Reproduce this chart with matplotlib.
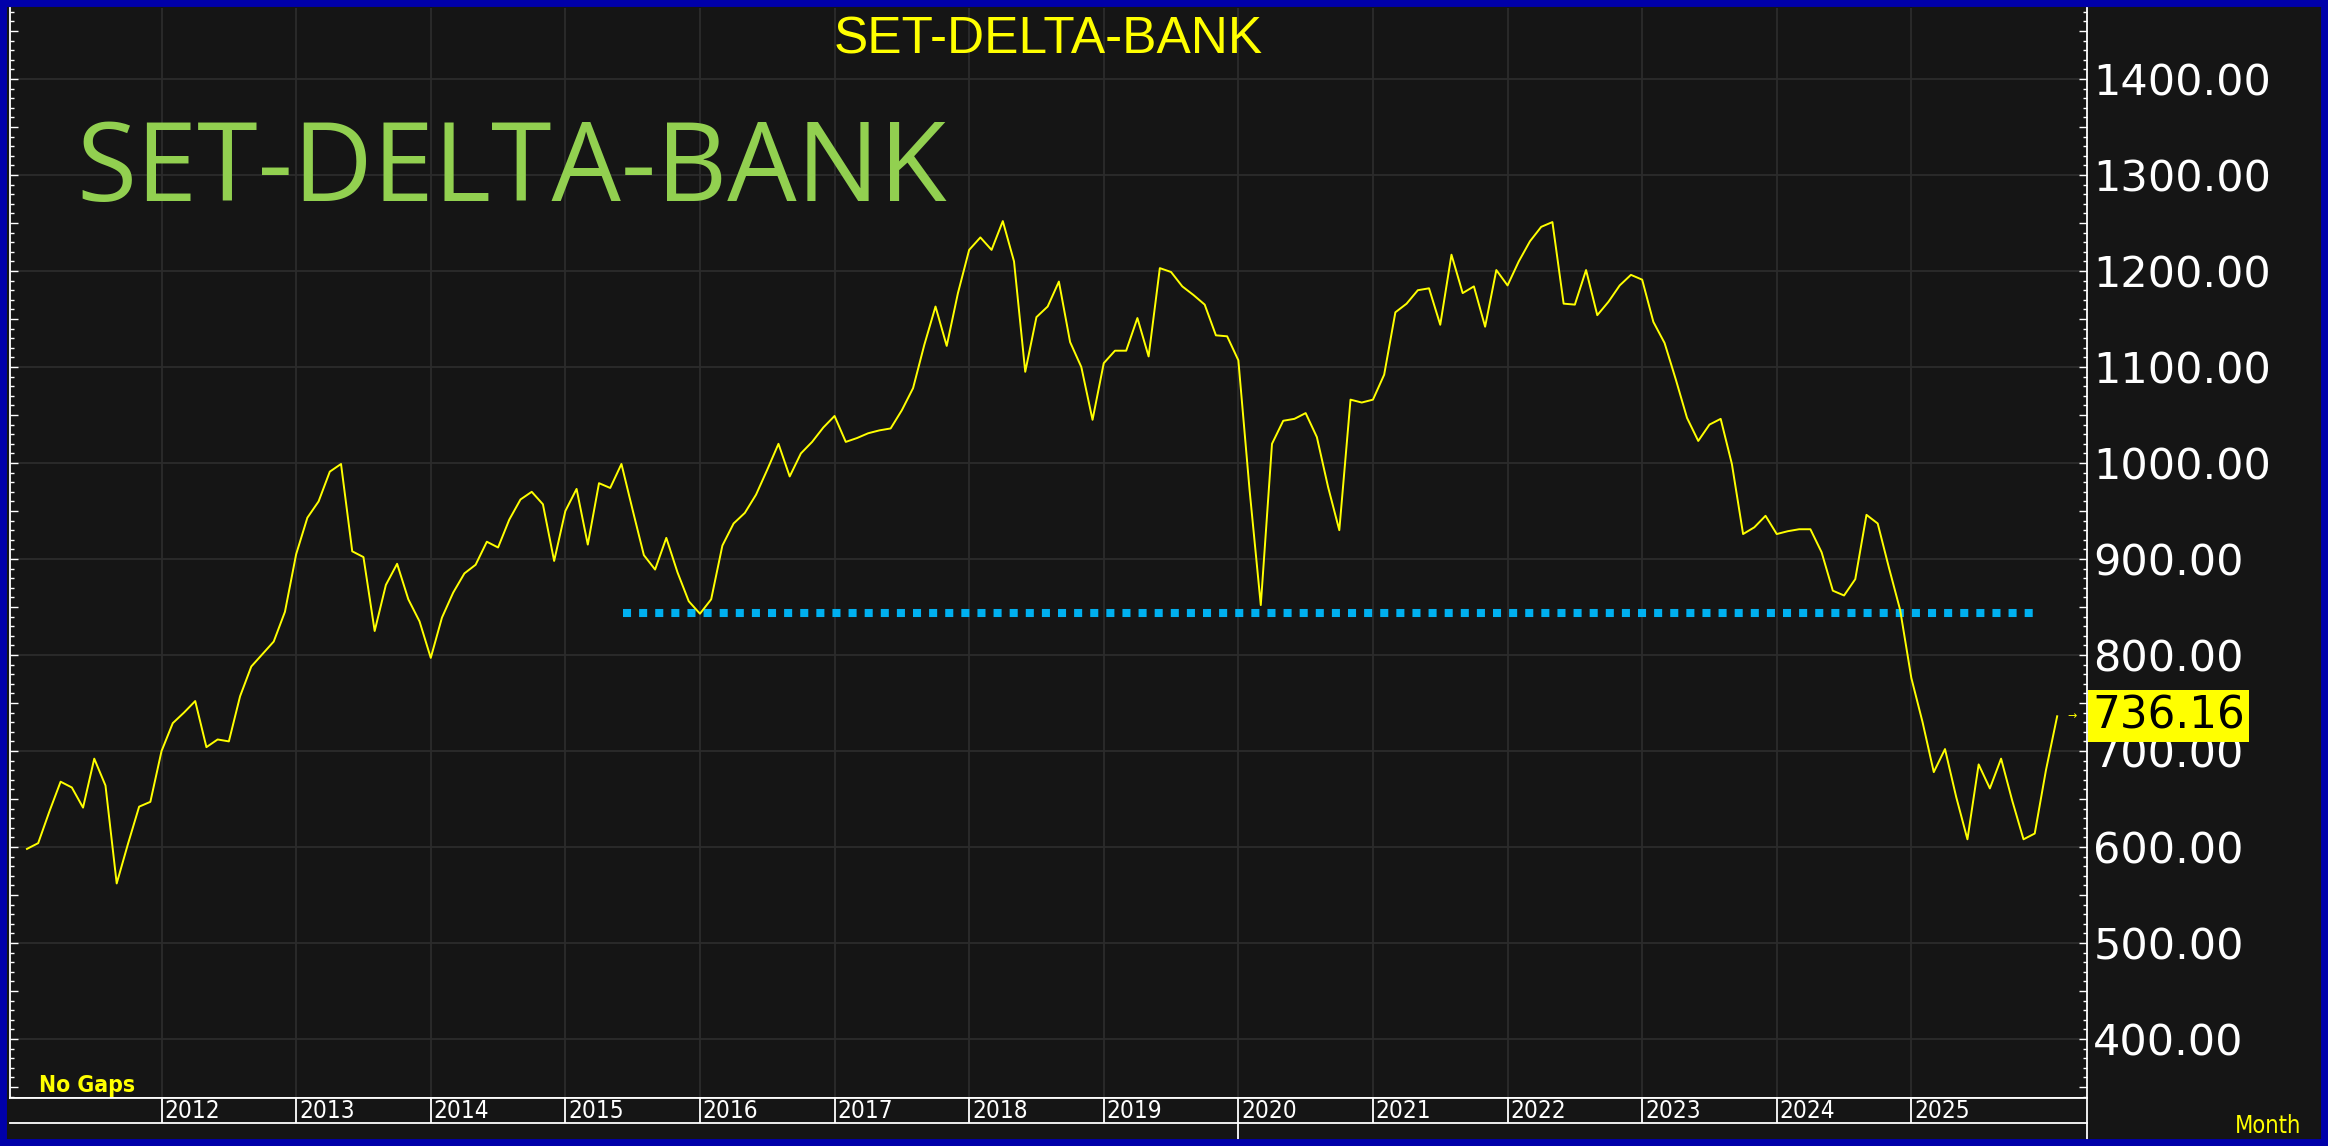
import numpy as np
import matplotlib
matplotlib.use('Agg')
import matplotlib.pyplot as plt
from matplotlib.ticker import MultipleLocator, FuncFormatter
from matplotlib.patches import Rectangle

# monthly closes, Jan 2011 .. Feb 2026
start_year = 2011
closes = [
    598, 604, 637, 668, 662, 641, 692, 664, 562, 603, 642, 647,          # 2011
    700, 729, 740, 752, 704, 712, 710, 757, 788, 801, 814, 845,          # 2012
    905, 943, 960, 991, 999, 908, 902, 825, 873, 895, 858, 835,          # 2013
    797, 839, 865, 885, 894, 918, 912, 941, 962, 970, 957, 898,          # 2014
    950, 973, 915, 979, 974, 999, 951, 904, 889, 922, 886, 856,          # 2015
    843, 858, 914, 937, 948, 967, 993, 1020, 986, 1010, 1022, 1037,      # 2016
    1049, 1022, 1026, 1031, 1034, 1036, 1055, 1078, 1123, 1163, 1122, 1177,  # 2017
    1222, 1235, 1222, 1252, 1210, 1095, 1152, 1163, 1189, 1126, 1100, 1045,  # 2018
    1104, 1117, 1117, 1151, 1111, 1203, 1199, 1184, 1175, 1165, 1133, 1132,  # 2019
    1107, 972, 852, 1020, 1044, 1046, 1052, 1027, 975, 930, 1066, 1063,  # 2020
    1066, 1092, 1157, 1166, 1180, 1182, 1144, 1217, 1177, 1184, 1142, 1201,  # 2021
    1185, 1210, 1231, 1246, 1251, 1166, 1165, 1201, 1154, 1168, 1185, 1196,  # 2022
    1191, 1147, 1125, 1087, 1047, 1023, 1040, 1046, 999, 926, 933, 945,  # 2023
    926, 929, 931, 931, 907, 867, 862, 879, 946, 937, 891, 847,          # 2024
    776, 730, 678, 702, 652, 608, 686, 661, 692, 648, 608, 614,          # 2025
    680, 736.16,                                                          # 2026
]
years = list(range(2012, 2026))
price_ticks = list(range(400, 1401, 100))
support_level = 844
support_from = 2015.43
support_to = 2025.95
cursor_year = 2020
title = 'SET-DELTA-BANK'

x = start_year + np.arange(len(closes)) / 12.0
last_close = closes[-1]

W, H = 2328, 1146
bg = '#151515'
grid_col = '#2c2c2c'
yellow = '#ffff00'

def fx(px):
    return px / W

def fy(py):
    return 1 - py / H

fig = plt.figure(figsize=(W / 100, H / 100), dpi=100, facecolor=bg)

# main price panel
left, right, top, bottom = 10, 2087, 8, 1098
ax = fig.add_axes([fx(left), fy(bottom), (right - left) / W, (bottom - top) / H])
ax.set_facecolor(bg)
ax.set_xlim(2010.874, 2026.305)
ax.set_ylim(338.5, 1474)

for yr in years:
    ax.axvline(yr, color=grid_col, lw=1.3, zorder=0)
for v in price_ticks:
    ax.axhline(v, color=grid_col, lw=1.3, zorder=0)

ax.plot([support_from, support_to], [support_level, support_level], color='#00b0f0',
        lw=5.8, ls=(0, (1, 1)), dash_capstyle='butt', zorder=2)
ax.plot(x, closes, color=yellow, lw=1.4, zorder=3)

for s in ['left', 'right', 'bottom']:
    ax.spines[s].set_color('white')
    ax.spines[s].set_linewidth(1.3)
ax.spines['top'].set_visible(False)

ax.yaxis.set_major_locator(MultipleLocator(50))
ax.yaxis.set_minor_locator(MultipleLocator(10))
ax.yaxis.set_major_formatter(FuncFormatter(lambda v, p: f'{v:.2f}' if v % 100 == 0 else ''))
ax.tick_params(axis='y', which='both', direction='in', left=True, right=True,
               labelleft=False, labelright=True, colors='white')
ax.tick_params(axis='y', which='major', length=5.5, width=1, pad=4.5, labelsize=31)
ax.tick_params(axis='y', which='minor', length=3, width=1)
ax.tick_params(axis='x', which='both', bottom=False, labelbottom=False)

# last price tag
ax.text(1.0 + 5 / 2077, last_close, f'{last_close:.2f}', transform=ax.get_yaxis_transform(),
        ha='left', va='center', fontsize=31.5, color='black', clip_on=False, zorder=10,
        bbox=dict(boxstyle='square,pad=0.1', fc=yellow, ec='none'))
ax.text(1.0 - 15 / 2077, last_close, '→', transform=ax.get_yaxis_transform(),
        ha='center', va='center', fontsize=8, color=yellow, clip_on=False)

# year band under the chart
band = fig.add_axes([fx(left), fy(1123), (right - left) / W, 25 / H])
band.set_facecolor(bg)
band.set_xlim(ax.get_xlim())
band.set_ylim(0, 1)
band.set_xticks([])
band.set_yticks([])
band.spines['left'].set_visible(False)
for s in ['top', 'bottom', 'right']:
    band.spines[s].set_color('white')
    band.spines[s].set_linewidth(1.3)
for yr in years:
    band.axvline(yr, color='white', lw=1.3)
    band.annotate(str(yr), (yr, 0.5), xytext=(2, -0.5), textcoords='offset points',
                  ha='left', va='center', color='white', fontsize=17.5,
                  fontstretch='condensed')
band.plot([cursor_year, cursor_year], [0, -1.2], color='white', lw=1.3, clip_on=False)
band.plot([band.get_xlim()[1]] * 2, [0, -1.2], color='white', lw=1.3, clip_on=False)

# texts
fig.text(fx((left + right) / 2), fy(53), title, color=yellow, fontsize=37,
         family='Liberation Sans', ha='center', va='baseline')
fig.text(fx(76), fy(201), title, color='#92d050', fontsize=79,
         family='Open Sans', ha='left', va='baseline')
fig.text(fx(39), fy(1092), 'No Gaps', color=yellow, fontsize=16.5,
         fontweight='bold', fontstretch='condensed', ha='left', va='baseline')
fig.text(fx(2235), fy(1133), 'Month', color=yellow, fontsize=17,
         fontstretch='condensed', ha='left', va='baseline')

# blue window frame
fig.add_artist(Rectangle((0, 0), 1, 1, transform=fig.transFigure, fill=False,
                         ec='#0000aa', lw=10, zorder=20))

fig.savefig('out.png', dpi=100, facecolor=bg)
